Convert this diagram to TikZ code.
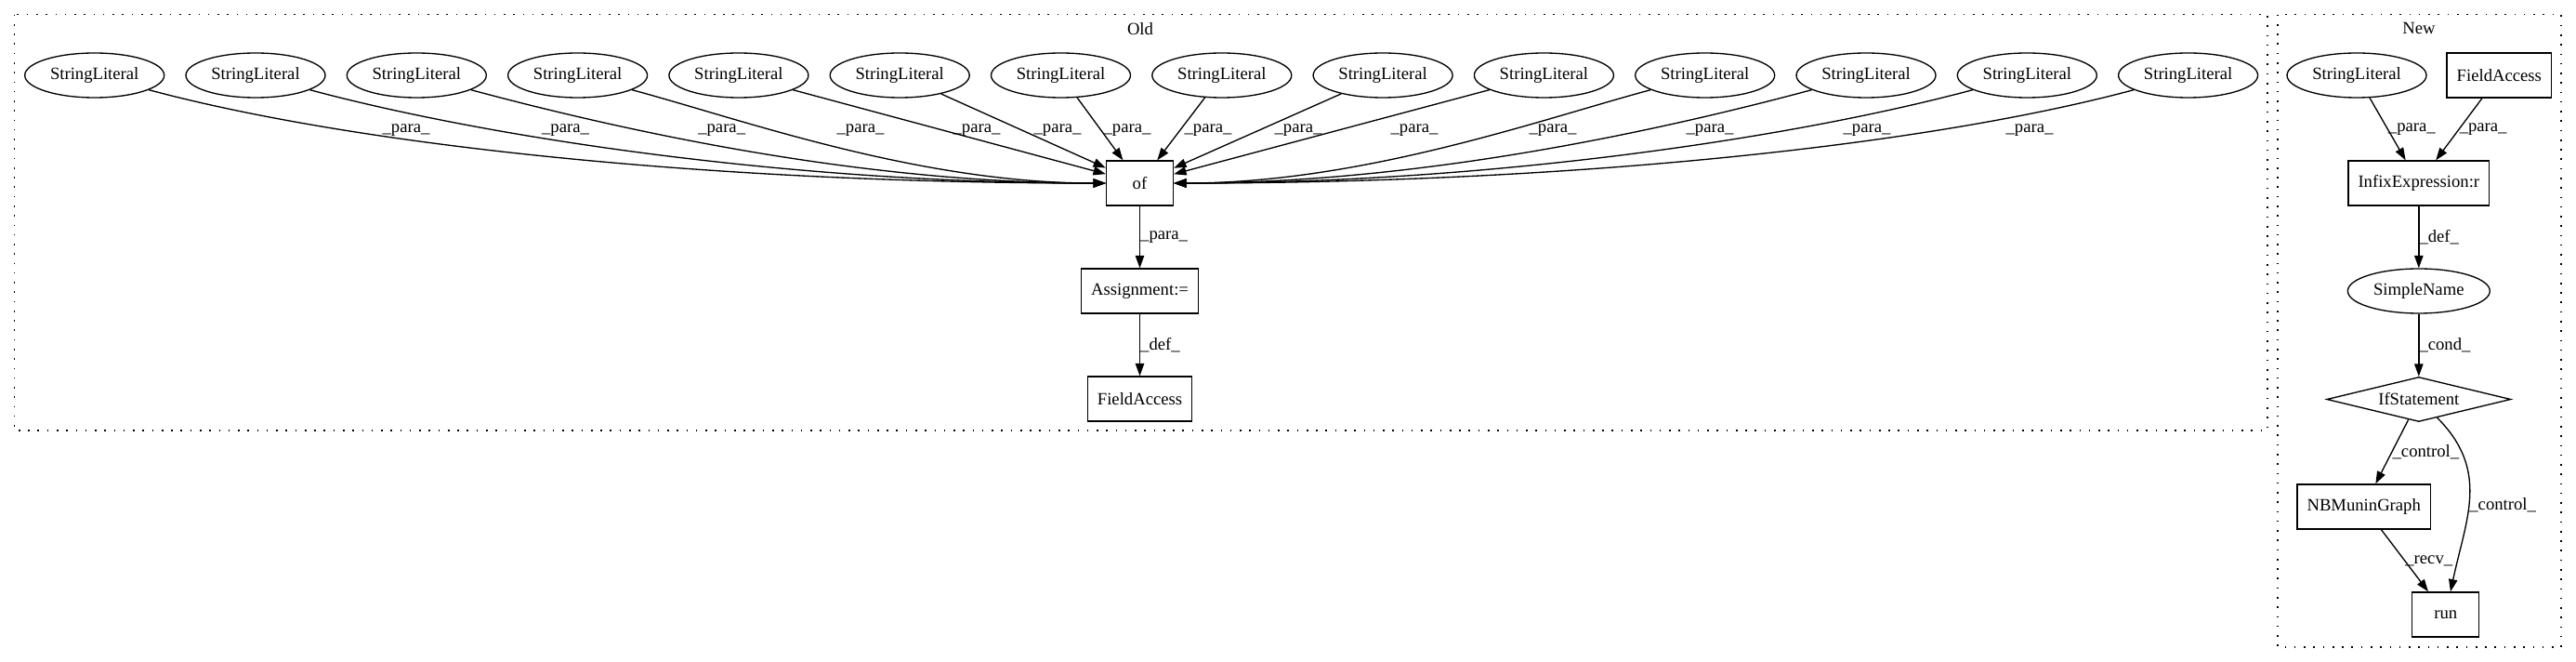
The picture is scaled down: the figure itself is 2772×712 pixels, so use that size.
\documentclass[tikz,border=0pt]{standalone}
\usepackage{fontspec}
\setmainfont{Liberation Serif}
\usetikzlibrary{arrows.meta,shapes.geometric}
\tikzset{
  lit/.style={draw, ellipse, inner xsep=4pt, inner ysep=2pt, minimum height=36pt},
  box/.style={draw, rectangle, inner xsep=8pt, inner ysep=2pt, minimum width=54pt, minimum height=36pt},
  cond/.style={draw, diamond, aspect=4.1, inner sep=0pt, minimum width=148.5pt, minimum height=36pt},
  lbl/.style={inner sep=0pt},
  link/.style={-{Triangle[length=10pt,width=7pt]}},
  cluster/.style={dash pattern=on 1.2pt off 6.5pt},
}
\begin{document}
\begin{tikzpicture}[x=0.75pt, y=0.75pt, line width=1pt, font=\fontsize{14pt}{16pt}\selectfont]
    \useasboundingbox (0,0) rectangle (2772,-712);
    \draw[cluster] (15.5,-15.7) rectangle (2440,-463);
    \draw[cluster] (2451,-15.7) rectangle (2756,-696);
    \node (oldtitle) at (1227,-30.7) {Old};
    \node (newtitle) at (2603,-30.7) {New};
    \foreach \i in {0,...,13}
        \node[lit] (lit\i) at ({101.7+173.3*\i},-81) {StringLiteral};
    \node[box] (of) at (1226.5,-197) {of};
    \node[box] (assign) at (1226.5,-313) {Assignment:=};
    \node[box] (oldfield) at (1226.5,-429) {FieldAccess};
    \foreach \i in {0,...,3}
        \draw[link] (lit\i) to[out=-15, in=180, out looseness=0.6] (of);
    \foreach \i in {4,...,9}
        \draw[link] (lit\i) -- (of);
    \foreach \i in {10,...,13}
        \draw[link] (lit\i) to[out=-165, in=0, out looseness=0.6] (of);
    \foreach \x [count=\n] in {437,608.5,776.7,926,1051,1138,1213,1300,1397,1522,1671,1840,2009,2184}
        \node[lbl] (para\n) at (\x,-140) {\_para\_};
    \draw[link] (of) -- node[lbl, right] (ofpara) {\_para\_} (assign);
    \draw[link] (assign) -- node[lbl, right] (assigndef) {\_def\_} (oldfield);
    \node[lit] (newlit) at (2536,-81) {StringLiteral};
    \node[box] (newfield) at (2689.3,-81) {FieldAccess};
    \node[box] (infix) at (2602.8,-197) {InfixExpression:r};
    \node[lit] (sname) at (2602.8,-313) {SimpleName};
    \node[cond] (ifst) at (2602.8,-429.5) {IfStatement};
    \node[box] (nbm) at (2543.7,-545) {NBMuninGraph};
    \node[box] (run) at (2631.7,-661) {run};
    \draw[link] (newlit) -- node[lbl, right] (litpara) {\_para\_} (infix);
    \draw[link] (newfield) -- node[lbl, right] (fieldpara) {\_para\_} (infix);
    \draw[link] (infix) -- node[lbl, right] (infixdef) {\_def\_} (sname);
    \draw[link] (sname) -- node[lbl, right] (snamecond) {\_cond\_} (ifst);
    \draw[link] (ifst) -- node[lbl, right] (ifcontrol) {\_control\_} (nbm);
    \draw[link] (nbm) -- node[lbl, right] (nbmrecv) {\_recv\_} (run);
    \draw[link] (ifst) to[out=-45, in=78, looseness=1.1] node[lbl, right, pos=0.55] (runcontrol) {\_control\_} (run);
\end{tikzpicture}
\end{document}
